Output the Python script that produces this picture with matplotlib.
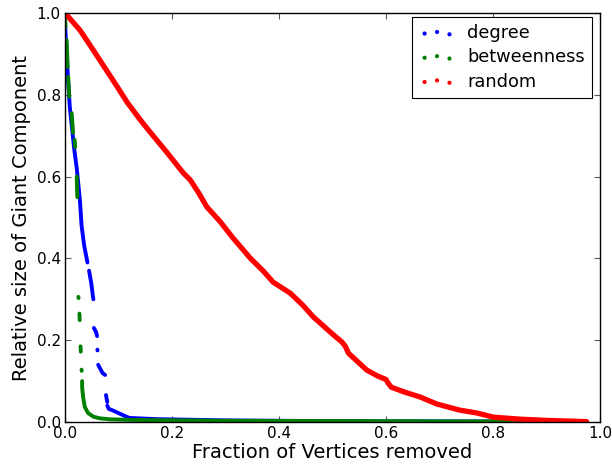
import matplotlib
matplotlib.use("Agg")
import matplotlib.pyplot as plt
import numpy as np

nan = np.nan

# fraction of vertices removed vs. relative size of the giant component
# (nan marks a gap between runs of points)
degree_x = [0.000, 0.001, 0.004, 0.006, 0.009, 0.013, 0.017, 0.022, 0.025, 0.028,
            0.031, 0.036, 0.042, nan, 0.045, 0.049, 0.053, nan, 0.054, 0.058, 0.060,
            nan, 0.0605, 0.0608, nan, 0.062, 0.066, 0.070, 0.075, nan, 0.0766, 0.079,
            nan, 0.079, 0.082, 0.090, 0.103, 0.120, 0.171, 0.300, 0.500, 0.970]
degree_y = [0.98, 0.95, 0.88, 0.83, 0.77, 0.72, 0.67, 0.62, 0.58, 0.54,
            0.48, 0.43, 0.39, nan, 0.37, 0.34, 0.30, nan, 0.23, 0.22, 0.21,
            nan, 0.177, 0.175, nan, 0.14, 0.13, 0.12, 0.115, nan, 0.066, 0.049,
            nan, 0.040, 0.032, 0.028, 0.020, 0.010, 0.007, 0.004, 0.002, 0.001]

betw_x = [0.000, 0.001, nan, 0.003, 0.005, nan, 0.006, 0.008, nan, 0.0125, 0.015,
          nan, 0.018, 0.019, nan, 0.022, 0.023, nan, 0.025, 0.0253, nan, 0.027, 0.0275,
          nan, 0.029, 0.0295, nan, 0.031, 0.0312, nan, 0.032, 0.032, 0.034, 0.037,
          0.043, 0.053, 0.065, 0.084, 0.127, 0.300, 0.600, 0.970]
betw_y = [0.995, 0.966, nan, 0.934, 0.868, nan, 0.844, 0.795, nan, 0.755, 0.707,
          nan, 0.69, 0.672, nan, 0.60, 0.55, nan, 0.306, 0.303, nan, 0.265, 0.249,
          nan, 0.185, 0.172, nan, 0.128, 0.125, nan, 0.10, 0.085, 0.06, 0.037,
          0.022, 0.013, 0.009, 0.0066, 0.005, 0.003, 0.002, 0.001]

random_x = [0.000, 0.010, 0.028, 0.050, 0.071, 0.095, 0.116, 0.140, 0.159, 0.190,
            0.221, 0.234, 0.250, 0.265, 0.290, 0.314, 0.346, 0.370, 0.389, 0.421,
            0.445, 0.464, 0.477, 0.500, 0.518, 0.524, 0.530, 0.545, 0.564, 0.585,
            0.600, 0.604, 0.610, 0.635, 0.664, 0.695, 0.738, 0.770, 0.800, 0.850,
            0.900, 0.975]
random_y = [1.000, 0.985, 0.958, 0.915, 0.873, 0.825, 0.782, 0.740, 0.709, 0.660,
            0.609, 0.592, 0.560, 0.526, 0.490, 0.450, 0.401, 0.370, 0.342, 0.315,
            0.285, 0.257, 0.242, 0.215, 0.195, 0.185, 0.168, 0.150, 0.127, 0.112,
            0.104, 0.095, 0.085, 0.073, 0.061, 0.044, 0.029, 0.022, 0.012, 0.007,
            0.004, 0.001]

series = [("degree", degree_x, degree_y, "blue", 2.8),
          ("betweenness", betw_x, betw_y, "green", 2.8),
          ("random", random_x, random_y, "red", 3.8)]

fig = plt.figure(figsize=(6.12, 4.66), dpi=100)
ax = fig.add_axes([0.1062, 0.0944, 0.8742, 0.8777])

handles = []
for name, xs, ys, color, lw in series:
    ax.plot(xs, ys, "-", color=color, lw=lw, solid_capstyle="round",
            solid_joinstyle="round")
    handles.append(ax.scatter([], [], s=9, color=color, linewidths=0, label=name))

ax.set_xlim(0, 1)
ax.set_ylim(0, 1)
ax.set_xticks(np.arange(0, 1.01, 0.2))
ax.set_yticks(np.arange(0, 1.01, 0.2))
ax.tick_params(direction="in", top=True, right=True, length=4, width=0.8,
               labelsize=11, pad=3, color="0.35")
for sp in ax.spines.values():
    sp.set_linewidth(1.0)

ax.set_xlabel("Fraction of Vertices removed", fontsize=14, labelpad=1)
ax.set_ylabel("Relative size of Giant Component", fontsize=14, labelpad=4)

leg = ax.legend(handles=handles, loc="upper right", bbox_to_anchor=(0.985, 0.99),
                borderaxespad=0, scatterpoints=3, scatteryoffsets=[0.375, 0.5, 0.3125],
                fontsize=12.8, fancybox=False, framealpha=1, edgecolor="black",
                handlelength=2.0, handletextpad=0.7, labelspacing=0.35,
                borderpad=0.4)
leg.get_frame().set_linewidth(0.8)

fig.savefig("out.png", dpi=100)
